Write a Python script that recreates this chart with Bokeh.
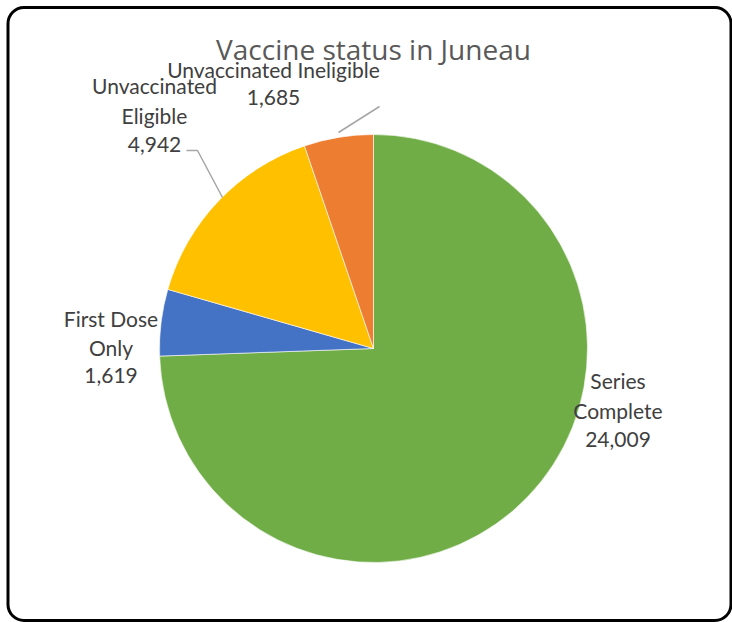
import numpy as np
from bokeh.plotting import figure
from bokeh.models import Range1d, ColumnDataSource, BoxAnnotation, Label
from bokeh.core.properties import value
from bokeh.embed import file_html
from bokeh.resources import INLINE

# ---- data ----
categories = ["Series Complete", "First Dose Only", "Unvaccinated Eligible", "Unvaccinated Ineligible"]
counts = [24009, 1619, 4942, 1685]
colors = ["#70AD47", "#4472C4", "#FFC000", "#ED7D31"]
title_text = "Vaccine status in Juneau"

# ---- layout (coordinates: x = page_x, y = 622 - page_y) ----
W, H = 732, 622
cx, cy, R = 373, 274, 214
label_lines = [["Series", "Complete"], ["First Dose", "Only"], ["Unvaccinated", "Eligible"], ["Unvaccinated Ineligible"]]
label_anchor = [(617.5, H - 380), (110.5, H - 318), (154, H - 85), (273, H - 69)]
label_step = [29.5, 28.5, 29.5, 27.5]
leaders = [None, None,
           ([186, 197, 222], [H - 150, H - 150, H - 197]),
           ([379, 338], [H - 106, H - 132])]

total = float(sum(counts))
frac = np.array(counts) / total
cum = np.concatenate([[0], np.cumsum(frac)])
start = np.pi / 2 - 2 * np.pi * cum[:-1]
end = np.pi / 2 - 2 * np.pi * cum[1:]

p = figure(width=W, height=H, x_range=Range1d(0, W), y_range=Range1d(0, H),
           output_backend="svg", toolbar_location=None, min_border=0)
p.axis.visible = False
p.grid.visible = False
p.outline_line_color = None
p.background_fill_color = "white"
p.border_fill_color = "white"

src = ColumnDataSource(dict(cat=categories, n=counts, color=colors, start=start, end=end))
p.wedge(x=cx, y=cy, radius=R, start_angle="start", end_angle="end", direction="clock",
        fill_color="color", line_color="white", line_width=0.6, source=src)

# leader lines
for ld in leaders:
    if ld is not None:
        p.line(ld[0], ld[1], line_color="#A6A6A6", line_width=1.5)

# labels
tx, ty, tt = [], [], []
for i, name in enumerate(categories):
    lines = label_lines[i] + [f"{counts[i]:,}"]
    ax, ay = label_anchor[i]
    for k, ln in enumerate(lines):
        tx.append(ax)
        ty.append(ay - k * label_step[i])
        tt.append(ln)
p.text(x=tx, y=ty, text=tt, text_align="center", text_baseline="alphabetic",
       text_font=value("Lato"), text_font_size="21px", text_color="#404040")

p.add_layout(Label(x=373, y=H - 48, text=title_text, text_align="center",
                   text_baseline="alphabetic", text_font="Open Sans", text_font_size="28px",
                   text_color="#595959"))

p.add_layout(BoxAnnotation(left=7.5, right=730.5, bottom=2, top=615, fill_alpha=0,
                           line_color="black", line_alpha=1.0, line_width=3, border_radius=16))

open("out.html", "w").write(file_html(p, INLINE))
